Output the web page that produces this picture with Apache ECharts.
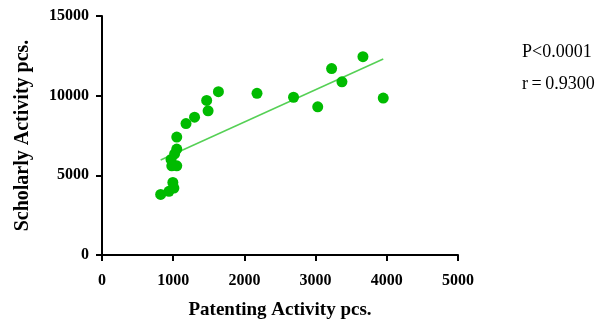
<!DOCTYPE html>
<html><head><meta charset="utf-8">
<script src="https://cdn.jsdelivr.net/npm/echarts@6/dist/echarts.min.js"></script>
<style>html,body{margin:0;padding:0;background:#fff}#c{width:596px;height:320px}</style>
</head><body><div id="c"></div>
<script>
const patenting = [824, 940, 1010, 995, 980, 1050, 970, 1020, 1050, 1050, 1180, 1300, 1470, 1490, 1635, 2177, 2690, 3030, 3225, 3370, 3665, 3950];
const scholarly = [3800, 4000, 4200, 4550, 5600, 5600, 6000, 6350, 6650, 7400, 8250, 8650, 9700, 9050, 10250, 10150, 9900, 9300, 11700, 10870, 12450, 9850];
const fitX = [824, 3950];
const fitY = [5960, 12300];
const xTicks = [0, 1000, 2000, 3000, 4000, 5000];
const yTicks = [0, 5000, 10000, 15000];
const statsText = ['P<0.0001', 'r\u2009=\u20090.9300'];

const font = '"Liberation Serif", "Times New Roman", serif';
const chart = echarts.init(document.getElementById('c'));
chart.setOption({
  animation: false,
  grid: {left: 102, right: 138, top: 16, bottom: 65, containLabel: false, outerBoundsMode: 'none'},
  xAxis: {
    type: 'value', min: xTicks[0], max: xTicks[xTicks.length-1], interval: 1000,
    splitLine: {show: false},
    axisLine: {onZero: false, lineStyle: {color: '#000', width: 2}},
    axisTick: {length: 6, lineStyle: {color: '#000', width: 2}},
    axisLabel: {color: '#000', fontFamily: font, fontWeight: 'bold', fontSize: 16, margin: 18,
      formatter: v => String(v)},
    name: 'Patenting Activity pcs.', nameLocation: 'middle', nameGap: 46,
    nameTextStyle: {color: '#000', fontFamily: font, fontWeight: 'bold', fontSize: 19}
  },
  yAxis: {
    type: 'value', min: yTicks[0], max: yTicks[yTicks.length-1], interval: 5000,
    splitLine: {show: false},
    axisLine: {show: true, lineStyle: {color: '#000', width: 2}},
    axisTick: {show: true, length: 6, lineStyle: {color: '#000', width: 2}},
    axisLabel: {color: '#000', fontFamily: font, fontWeight: 'bold', fontSize: 16, margin: 13,
      formatter: v => String(v)},
    name: 'Scholarly Activity pcs.', nameLocation: 'middle', nameGap: 69,
    nameTextStyle: {color: '#000', fontFamily: font, fontWeight: 'bold', fontSize: 20}
  },
  graphic: [
    {type: 'text', x: 522, y: 52, style: {text: statsText[0], font: '18px ' + font, fill: '#000', verticalAlign: 'middle'}},
    {type: 'text', x: 522, y: 84, style: {text: statsText[1], font: '18px ' + font, fill: '#000', verticalAlign: 'middle'}}
  ],
  series: [
    {type: 'line', data: fitX.map((x, i) => [x, fitY[i]]), symbol: 'none',
     lineStyle: {color: '#55d055', width: 1.5}, z: 1},
    {type: 'scatter', data: patenting.map((x, i) => [x, scholarly[i]]), symbolSize: 11,
     itemStyle: {color: '#00bb00', opacity: 1}, z: 2}
  ]
});
</script></body></html>
